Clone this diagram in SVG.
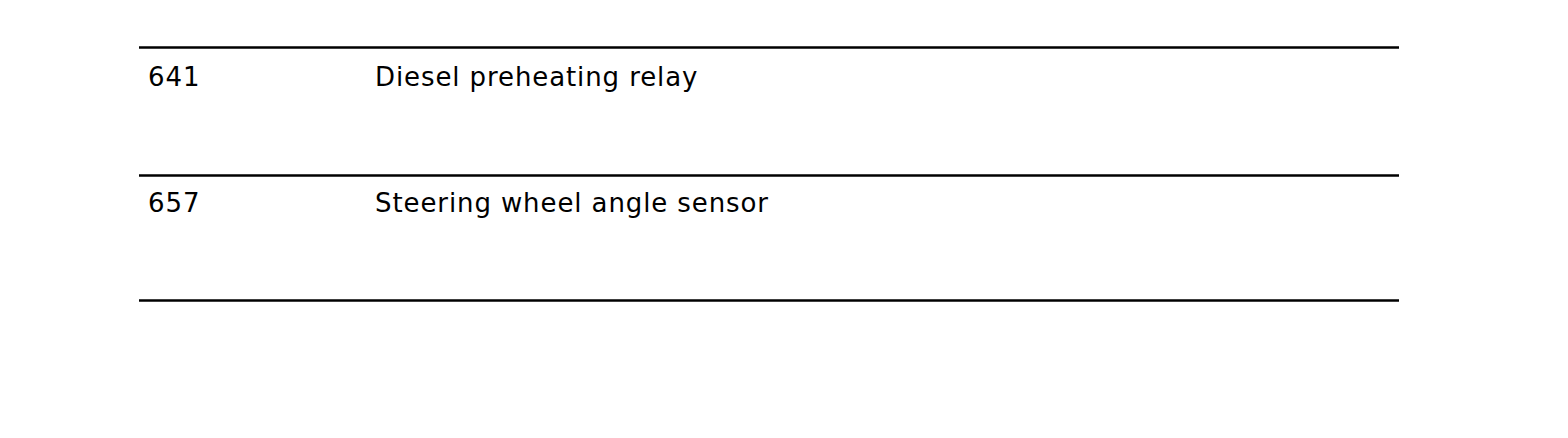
<svg xmlns="http://www.w3.org/2000/svg" width="1568" height="438" viewBox="0 0 1568 438">
<style>
.rule{stroke:#000;stroke-width:2.5}
.t{font-family:"DejaVu Sans","Liberation Sans",sans-serif;font-size:26px;letter-spacing:0.9px;fill:#000}
</style>
<rect width="1568" height="438" fill="#fff"/>
<g id="rules">
<line class="rule" x1="139" y1="47.5" x2="1399" y2="47.5"/>
<line class="rule" x1="139" y1="175.5" x2="1399" y2="175.5"/>
<line class="rule" x1="139" y1="300.5" x2="1399" y2="300.5"/>
</g>
<g id="row-641">
<text class="t" x="148" y="86">641</text>
<text class="t" x="375" y="86">Diesel preheating relay</text>
</g>
<g id="row-657">
<text class="t" x="148" y="212">657</text>
<text class="t" x="375" y="212">Steering wheel angle sensor</text>
</g>
</svg>
